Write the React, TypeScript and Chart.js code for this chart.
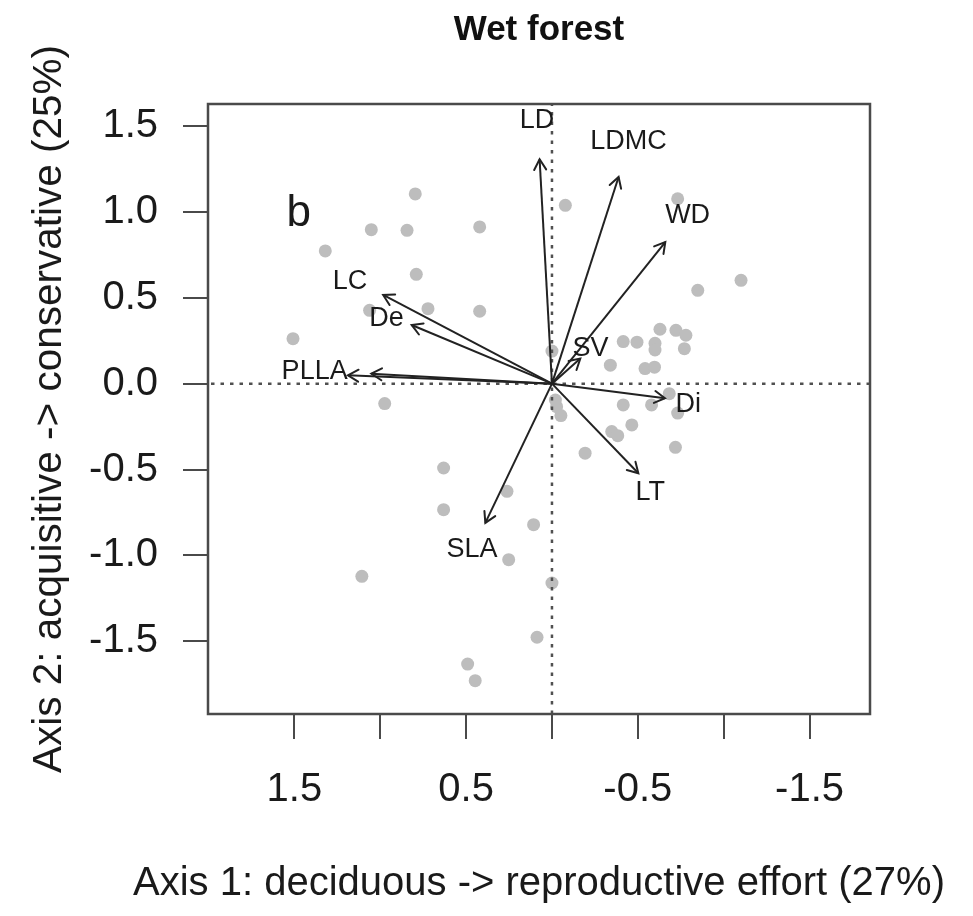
import React, { useEffect, useRef } from 'react';
import { Chart, registerables } from 'chart.js';

Chart.register(...registerables);

// ---- axis ticks ----
const xTickValues = [1.5, 1.0, 0.5, 0, -0.5, -1.0, -1.5];
const xTickLabels = ['1.5', '', '0.5', '', '-0.5', '', '-1.5'];
const yTickValues = [-1.5, -1.0, -0.5, 0, 0.5, 1.0, 1.5];
const yTickLabels = ['-1.5', '-1.0', '-0.5', '0.0', '0.5', '1.0', '1.5'];
const xLimits = [-1.852, 2.003];
const yLimits = [-1.924, 1.629];

// ---- species scores (grey points) ----
const siteX = [
  0.796, 1.052, 0.844, 1.32, 0.79, 1.062, 0.722, 1.508, 0.974, 0.421, -0.078, 0.421,
  -0.732, -0.849, -1.101, -0.629, -0.722, -0.78, -0.771, -0.415, -0.495, -0.6, -0.6,
  -0.34, -0.542, -0.597, 0.0,
  -0.683, -0.415, -0.58, -0.732, -0.465, -0.348, -0.383, -0.719, -0.193, -0.027, -0.052, -0.02,
  1.107, 0.631, 0.631, 0.262, 0.107, 0.252, 0.0, 0.087, 0.491, 0.447,
];
const siteY = [
  1.105, 0.897, 0.893, 0.773, 0.637, 0.427, 0.437, 0.262, -0.116, 0.913, 1.039, 0.422,
  1.077, 0.544, 0.602, 0.317, 0.311, 0.282, 0.204, 0.245, 0.242, 0.235, 0.196,
  0.108, 0.088, 0.096, 0.19,
  -0.058, -0.124, -0.124, -0.171, -0.24, -0.279, -0.303, -0.371, -0.405, -0.134, -0.186, -0.095,
  -1.122, -0.491, -0.734, -0.627, -0.821, -1.025, -1.161, -1.477, -1.633, -1.73,
];

// ---- trait vectors ----
const traitNames = ['LD', 'LDMC', 'WD', 'SV', 'Di', 'LT', 'SLA', 'PLLA', '', 'LC', 'De'];
const traitX = [0.072, -0.388, -0.66, -0.165, -0.658, -0.503, 0.388, 1.188, 1.052, 0.983, 0.817];
const traitY = [1.307, 1.204, 0.825, 0.146, -0.085, -0.522, -0.811, 0.049, 0.058, 0.517, 0.342];
const traitLabelX = [0.087, -0.445, -0.79, -0.225, -0.794, -0.573, 0.466, 1.382, 0, 1.176, 0.963];
const traitLabelY = [1.534, 1.41, 0.981, 0.206, -0.124, -0.637, -0.967, 0.068, 0, 0.594, 0.381];

const panelLetter = 'b';
const panelLetterX = 1.475;
const panelLetterY = 0.99;

const titleText = 'Wet forest';
const xTitle = 'Axis 1: deciduous -> reproductive effort (27%)';
const yTitle = 'Axis 2: acquisitive -> conservative (25%)';

const FONT = '"Liberation Sans", Arial, Helvetica, sans-serif';
const TEXT = '#1a1a1a';
const FRAME = '#4a4a4a';
const ARROW = '#222222';
const POINT = '#bdbdbd';

function lookup(values: number[], labels: string[], v: number) {
  for (let i = 0; i < values.length; i++) {
    if (Math.abs(values[i] - v) < 1e-6) return labels[i];
  }
  return '';
}

const overlayPlugin = {
  id: 'overlay',
  afterDatasetsDraw(chart: any) {
    const ctx = chart.ctx;
    const xs = chart.scales.x;
    const ys = chart.scales.y;
    ctx.save();
    // arrowheads
    ctx.strokeStyle = ARROW;
    ctx.lineWidth = 2;
    ctx.lineCap = 'round';
    const x0 = xs.getPixelForValue(0);
    const y0 = ys.getPixelForValue(0);
    for (let i = 0; i < traitX.length; i++) {
      const x1 = xs.getPixelForValue(traitX[i]);
      const y1 = ys.getPixelForValue(traitY[i]);
      const ang = Math.atan2(y1 - y0, x1 - x0);
      const L = 12;
      const a = Math.PI / 6;
      ctx.beginPath();
      ctx.moveTo(x1 - L * Math.cos(ang - a), y1 - L * Math.sin(ang - a));
      ctx.lineTo(x1, y1);
      ctx.lineTo(x1 - L * Math.cos(ang + a), y1 - L * Math.sin(ang + a));
      ctx.stroke();
    }
    // trait labels
    ctx.fillStyle = TEXT;
    ctx.textAlign = 'center';
    ctx.textBaseline = 'middle';
    ctx.font = `27px ${FONT}`;
    for (let i = 0; i < traitNames.length; i++) {
      if (!traitNames[i]) continue;
      ctx.fillText(traitNames[i], xs.getPixelForValue(traitLabelX[i]), ys.getPixelForValue(traitLabelY[i]));
    }
    // panel letter
    ctx.font = `44px ${FONT}`;
    ctx.fillText(panelLetter, xs.getPixelForValue(panelLetterX), ys.getPixelForValue(panelLetterY));
    // frame
    const { left, right, top, bottom } = chart.chartArea;
    ctx.strokeStyle = FRAME;
    ctx.lineWidth = 2.5;
    ctx.lineCap = 'butt';
    ctx.strokeRect(left, top, right - left, bottom - top);
    // x axis title (drawn without width compression)
    ctx.fillStyle = TEXT;
    ctx.font = `40px ${FONT}`;
    ctx.textAlign = 'center';
    ctx.textBaseline = 'middle';
    ctx.fillText(xTitle, (left + right) / 2, 884);
    ctx.restore();
  },
};

export default function App() {
  const ref = useRef<HTMLCanvasElement | null>(null);

  useEffect(() => {
    if (!ref.current) return;
    Chart.defaults.font.family = FONT;

    const arrowSets = traitX.map((tx, i) => ({
      type: 'scatter' as const,
      label: traitNames[i] || 'vec',
      data: [
        { x: 0, y: 0 },
        { x: tx, y: traitY[i] },
      ],
      showLine: true,
      borderColor: ARROW,
      borderWidth: 2,
      pointRadius: 0,
      pointHoverRadius: 0,
      order: 1,
    }));

    const zeroSets = [
      {
        type: 'scatter' as const,
        label: 'h0',
        data: [
          { x: xLimits[0], y: 0 },
          { x: xLimits[1], y: 0 },
        ],
        showLine: true,
        borderColor: '#505050',
        borderWidth: 2.5,
        borderDash: [3.5, 6],
        pointRadius: 0,
        order: 2,
      },
      {
        type: 'scatter' as const,
        label: 'v0',
        data: [
          { x: 0, y: yLimits[0] },
          { x: 0, y: yLimits[1] },
        ],
        showLine: true,
        borderColor: '#505050',
        borderWidth: 2.5,
        borderDash: [3.5, 6],
        pointRadius: 0,
        order: 2,
      },
    ];

    const pointSet = {
      type: 'scatter' as const,
      label: 'species',
      data: siteX.map((x, i) => ({ x, y: siteY[i] })),
      backgroundColor: POINT,
      borderWidth: 0,
      pointRadius: 6.5,
      pointHoverRadius: 6.5,
      order: 3,
    };

    const chart = new Chart(ref.current, {
      type: 'scatter',
      data: { datasets: [...arrowSets, ...zeroSets, pointSet] as any },
      options: {
        responsive: false,
        animation: false,
        devicePixelRatio: 1,
        events: [],
        layout: { padding: { top: 0, right: 103, bottom: 0, left: 0 } },
        plugins: {
          legend: { display: false },
          tooltip: { enabled: false },
          title: {
            display: true,
            text: titleText,
            fullSize: false,
            color: '#111',
            font: { size: 35, weight: 'bold', family: FONT },
            padding: { top: 9, bottom: 53 },
          },
        },
        scales: {
          x: {
            type: 'linear',
            reverse: true,
            min: xLimits[0],
            max: xLimits[1],
            afterBuildTicks: (s: any) => {
              s.ticks = xTickValues.map((v) => ({ value: v }));
            },
            afterFit: (s: any) => {
              s.height = 202;
            },
            ticks: {
              autoSkip: false,
              maxRotation: 0,
              minRotation: 0,
              padding: 27,
              color: TEXT,
              font: { size: 40, family: FONT },
              callback: (v: any) => lookup(xTickValues, xTickLabels, Number(v)),
            },
            grid: {
              drawOnChartArea: false,
              drawTicks: true,
              tickLength: 25,
              color: FRAME,
              lineWidth: 2,
            },
            border: { display: false },
            title: { display: false },
          },
          y: {
            type: 'linear',
            min: yLimits[0],
            max: yLimits[1],
            afterBuildTicks: (s: any) => {
              s.ticks = yTickValues.map((v) => ({ value: v }));
            },
            afterFit: (s: any) => {
              s.width = 208;
            },
            ticks: {
              autoSkip: false,
              padding: 25,
              color: TEXT,
              font: { size: 40, family: FONT },
              callback: (v: any) => lookup(yTickValues, yTickLabels, Number(v)),
            },
            grid: {
              drawOnChartArea: false,
              drawTicks: true,
              tickLength: 25,
              color: FRAME,
              lineWidth: 2,
            },
            border: { display: false },
            title: {
              display: true,
              text: yTitle,
              color: TEXT,
              font: { size: 40.5, family: FONT },
              padding: { top: 26, bottom: 0 },
            },
          },
        },
      },
      plugins: [overlayPlugin],
    } as any);

    return () => chart.destroy();
  }, []);

  return (
    <div style={{ position: 'absolute', left: 0, top: 0, width: 973, height: 916, background: '#fff' }}>
      <canvas ref={ref} width={973} height={916} style={{ display: 'block' }} />
    </div>
  );
}
